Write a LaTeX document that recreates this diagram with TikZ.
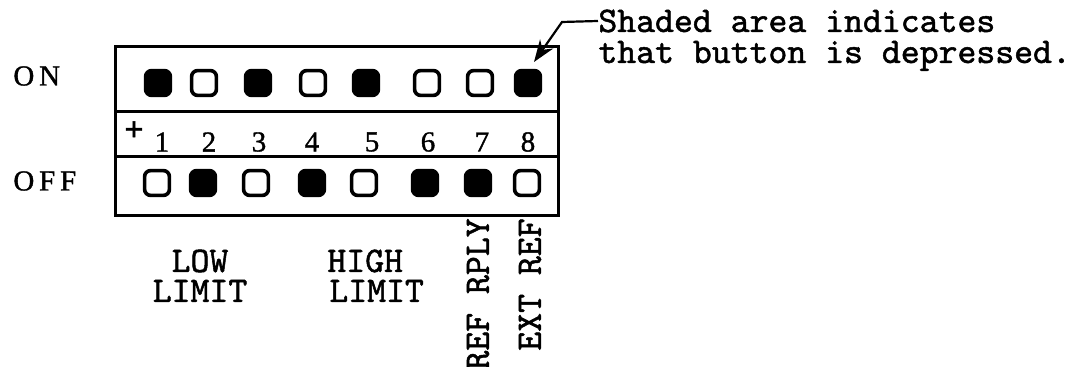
\documentclass[tikz,border=0pt]{standalone}
\usepackage{fontspec}
\setmainfont{Liberation Serif}[FakeBold=1.2]
\setmonofont{lmmono10-regular.otf}[FakeBold=1.4]
\usetikzlibrary{arrows.meta}

\begin{document}
\begin{tikzpicture}[x=0.5pt,y=-0.5pt,
  btn/.style={draw,line width=1.8pt,rounded corners=3pt,minimum size=12.4pt,inner sep=0pt},
  btndown/.style={btn,fill=black},
  mono/.style={font=\ttfamily\fontsize{18}{15}\selectfont,inner sep=0pt},
  serif/.style={font=\fontsize{14.5}{16}\selectfont,inner sep=0pt}]

\useasboundingbox (0,0) rectangle (1088,367);

% panel
\draw[line width=1.5pt] (115,47) rectangle (558,216);
\draw[line width=1.5pt] (115,112) -- (558,112);
\draw[line width=1.5pt] (115,157) -- (558,157);

\node[serif,anchor=west] (on) at (13,76) {O\,N};
\node[serif,anchor=west] (off) at (13,181) {O\,F\,F};

% ON row
\node[btndown] (on1) at (158,83) {};
\node[btn] (on2) at (204,83) {};
\node[btndown] (on3) at (258,83) {};
\node[btn] (on4) at (313,83) {};
\node[btndown] (on5) at (366,83) {};
\node[btn] (on6) at (427,83) {};
\node[btn] (on7) at (480,83) {};
\node[btndown] (on8) at (528,83) {};

% switch numbers
\node[inner sep=0pt,font=\bfseries\fontsize{17}{17}\selectfont] (plus) at (134,131) {+};
\node[serif] (n1) at (162,142) {1};
\node[serif] (n2) at (209,142) {2};
\node[serif] (n3) at (259,142) {3};
\node[serif] (n4) at (312,142) {4};
\node[serif] (n5) at (372,142) {5};
\node[serif] (n6) at (428,142) {6};
\node[serif] (n7) at (482,142) {7};
\node[serif] (n8) at (528,142) {8};

% OFF row
\node[btn] (off1) at (157,183) {};
\node[btndown] (off2) at (203,183) {};
\node[btn] (off3) at (256,183) {};
\node[btndown] (off4) at (312,183) {};
\node[btn] (off5) at (364,183) {};
\node[btndown] (off6) at (425,183) {};
\node[btndown] (off7) at (478,183) {};
\node[btn] (off8) at (527,183) {};

% groups
\node[mono,anchor=base] (low) at (200,272) {LOW};
\node[mono,anchor=base] (lowlim) at (200,302) {LIMIT};
\node[mono,anchor=base west] (high) at (327,272) {HIGH};
\node[mono,anchor=base west] (highlim) at (329,302) {LIMIT};
\node[mono,rotate=90,anchor=east] (rply) at (478,218) {REF RPLY};
\node[mono,rotate=90,anchor=east] (extref) at (530,218) {EXT REF};

% note
\node[mono,anchor=base west] (shaded) at (598,32) {Shaded area indicates};
\node[mono,anchor=base west] (depr) at (598,63) {that button is depressed.};
\coordinate (knee) at (562,22);
\coordinate (tip) at (534,62);
\draw[line width=1.1pt,-{Stealth[length=11pt,width=8pt]}] (shaded.west) -- (knee) -- (tip);
\end{tikzpicture}
\end{document}
